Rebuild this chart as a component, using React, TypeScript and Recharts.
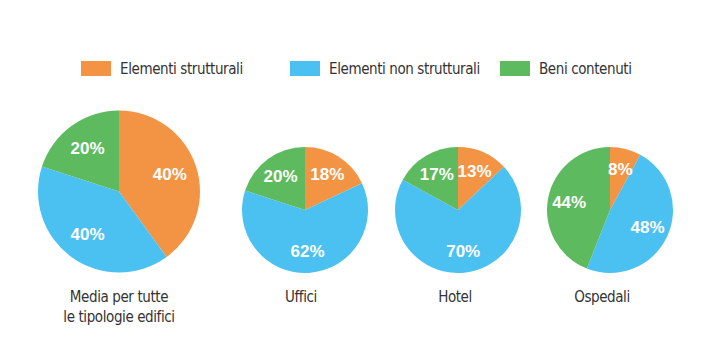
import React from 'react';
import { PieChart, Pie, Cell } from 'recharts';

const seriesNames = ['Elementi strutturali', 'Elementi non strutturali', 'Beni contenuti'];
const seriesColors = ['#F39444', '#4BC1F1', '#5DBA5F'];
const categories = ['Media per tutte\nle tipologie edifici', 'Uffici', 'Hotel', 'Ospedali'];
const strutturali = [40, 18, 13, 8];
const nonStrutturali = [40, 62, 70, 48];
const beniContenuti = [20, 20, 17, 44];

const layout = [
  { cx: 119, cy: 191.5, r: 81, tx: 119 },
  { cx: 305, cy: 210, r: 63, tx: 301 },
  { cx: 458, cy: 210, r: 63, tx: 455 },
  { cx: 610, cy: 210, r: 63, tx: 602 },
];
const legendX = [81, 290, 500];

const RADIAN = Math.PI / 180;
const narrow = '"Liberation Sans Narrow", "DejaVu Sans Condensed", sans-serif';

const renderLabel = (props: any) => {
  const { cx, cy, midAngle, outerRadius, value } = props;
  const r = outerRadius * 0.66;
  const x = cx + r * Math.cos(-midAngle * RADIAN);
  const y = cy + r * Math.sin(-midAngle * RADIAN);
  return (
    <text
      x={x}
      y={y}
      fill="#ffffff"
      textAnchor="middle"
      dominantBaseline="central"
      fontFamily='"Liberation Sans", Arial, sans-serif'
      fontWeight="bold"
      fontSize={17}
    >
      {`${value}%`}
    </text>
  );
};

export default function App() {
  const rows = categories.map((_, i) => [
    { name: seriesNames[0], value: strutturali[i] },
    { name: seriesNames[1], value: nonStrutturali[i] },
    { name: seriesNames[2], value: beniContenuti[i] },
  ]);
  return (
    <div style={{ position: 'absolute', left: 0, top: 0, width: 709, height: 357, background: '#fff', overflow: 'hidden' }}>
      {seriesNames.map((n, i) => (
        <div
          key={n}
          style={{
            position: 'absolute',
            left: legendX[i],
            top: 58,
            height: 21,
            display: 'flex',
            alignItems: 'center',
            gap: 9,
            fontFamily: narrow,
            fontSize: 15,
            letterSpacing: '-0.4px',
            color: '#333',
            whiteSpace: 'nowrap',
          }}
        >
          <div style={{ width: 30, height: 15, background: seriesColors[i] }} />
          <span>{n}</span>
        </div>
      ))}
      <PieChart width={709} height={357} margin={{ top: 0, left: 0, right: 0, bottom: 0 }} style={{ position: 'absolute', left: 0, top: 0 }}>
        {layout.map((p, i) => (
          <Pie
            key={i}
            data={rows[i]}
            dataKey="value"
            nameKey="name"
            cx={p.cx}
            cy={p.cy}
            outerRadius={p.r}
            startAngle={90}
            endAngle={-270}
            stroke="none"
            isAnimationActive={false}
            labelLine={false}
            label={renderLabel}
          >
            {rows[i].map((_, j) => (
              <Cell key={j} fill={seriesColors[j]} />
            ))}
          </Pie>
        ))}
      </PieChart>
      {categories.map((c, i) => (
        <div
          key={c}
          style={{
            position: 'absolute',
            left: layout[i].tx - 100,
            width: 200,
            top: 287,
            textAlign: 'center',
            fontFamily: narrow,
            fontSize: 15,
            letterSpacing: '-0.4px',
            lineHeight: '20px',
            color: '#333',
            whiteSpace: 'pre-line',
          }}
        >
          {c}
        </div>
      ))}
    </div>
  );
}
